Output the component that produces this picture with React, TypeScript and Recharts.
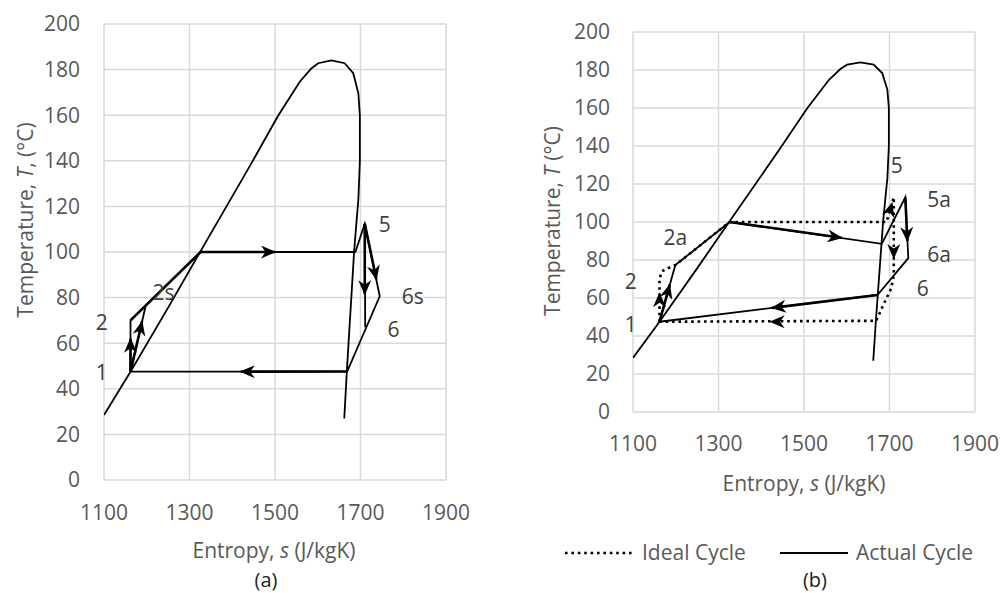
import { LineChart, Line, XAxis, YAxis, CartesianGrid, ReferenceDot } from "recharts";

type Pt = [number, number]; // [entropy s, temperature T]

const sTicks = [1100, 1300, 1500, 1700, 1900];
const tTicks = [0, 20, 40, 60, 80, 100, 120, 140, 160, 180, 200];

// saturation dome (same in both panels)
const dome: Pt[] = [
  [1100, 28.5], [1162, 47.5], [1250, 75.6], [1326, 100.4], [1442, 138],
  [1508, 160], [1558, 174.7], [1585, 180.5], [1601, 182.8], [1632, 184],
  [1663, 182.8], [1683, 178.4], [1695, 169.6], [1698.5, 160], [1698.5, 140],
  [1695, 123], [1691, 114], [1685, 100], [1668, 47.5], [1662, 27],
];

// panel (a)
const cycleA: Pt[] = [
  [1162, 47.5], [1162, 70], [1326, 100], [1688, 100], [1710, 112.4],
  [1745, 80.6], [1669, 47.6], [1162, 47.5],
];
const to2sA: Pt[] = [[1162, 47.5], [1197, 76]];
const to6A: Pt[] = [[1710, 112.4], [1711, 67]];
const liquidA: Pt[] = [[1162, 70], [1326, 100]];
const arrowsA: Pt[][] = [
  [[1162, 47.5], [1162, 62]],
  [[1162, 47.5], [1189, 69.5]],
  [[1326, 100], [1500, 100]],
  [[1669, 47.6], [1420, 47.5]],
  [[1710, 112.4], [1710, 81.5]],
  [[1710, 112.4], [1737, 88]],
];
const labelsA = [
  { text: "5", s: 1757, T: 112 },
  { text: "6s", s: 1822, T: 80.6 },
  { text: "6", s: 1777, T: 66.2 },
  { text: "2s", s: 1239, T: 82 },
  { text: "2", s: 1095, T: 69 },
  { text: "1", s: 1095, T: 47 },
];

// panel (b)
const idealB: Pt[] = [
  [1162, 47.5], [1162, 70], [1167, 74], [1183, 75.8], [1199, 77.3],
  [1326, 100], [1693, 100], [1710, 113], [1710, 72], [1704, 65],
  [1689, 58], [1677, 52], [1669, 48], [1162, 47.5],
];
const actualB: Pt[] = [
  [1162, 47.5], [1199, 77.3], [1326, 100], [1682, 88.5], [1737, 113],
  [1744, 81], [1672, 61.6], [1162, 47.5],
];
const actualArrowsB: Pt[][] = [
  [[1162, 47.5], [1186, 67]],
  [[1326, 100], [1588, 91.7]],
  [[1737, 113], [1741.7, 90]],
  [[1672, 61.6], [1425, 54.8]],
];
const idealArrowsB: Pt[][] = [
  [[1162, 47.5], [1162, 62.5]],
  [[1693, 100], [1706, 110]],
  [[1710, 113], [1710, 81]],
  [[1669, 47.5], [1422, 47.5]],
];
const labelsB = [
  { text: "5", s: 1717, T: 129.5 },
  { text: "5a", s: 1816, T: 111.6 },
  { text: "2a", s: 1199, T: 92 },
  { text: "6a", s: 1816, T: 82.7 },
  { text: "2", s: 1095, T: 68.8 },
  { text: "6", s: 1778, T: 65.1 },
  { text: "1", s: 1095, T: 45.8 },
];

const rows = (pts: Pt[]) => pts.map(([s, T]) => ({ s, T }));

const GREY = "#595959";
const DOTS = "2.6 3.8";
const FS = 21;

function ArrowDef({ id }: { id: string }) {
  return (
    <marker
      id={id}
      viewBox="0 0 15 13"
      refX={14}
      refY={6.5}
      markerWidth={15}
      markerHeight={13}
      markerUnits="userSpaceOnUse"
      orient="auto"
    >
      <path d="M0,0 L15,6.5 L0,13 L4.5,6.5 Z" fill="#000" stroke="none" />
    </marker>
  );
}

function line(key: string, pts: Pt[], opts: { w?: number; dash?: string; arrow?: string; hide?: boolean } = {}) {
  return (
    <Line
      key={key}
      data={rows(pts)}
      dataKey="T"
      type="linear"
      stroke="#000"
      strokeOpacity={opts.hide ? 0 : 1}
      strokeWidth={opts.w ?? 1.8}
      strokeDasharray={opts.dash}
      markerEnd={opts.arrow ? `url(#${opts.arrow})` : undefined}
      dot={false}
      activeDot={false}
      legendType="none"
      isAnimationActive={false}
    />
  );
}

function labelDots(list: { text: string; s: number; T: number }[]) {
  return list.map((l) => (
    <ReferenceDot
      key={l.text}
      x={l.s}
      y={l.T}
      r={0}
      fill="none"
      stroke="none"
      ifOverflow="visible"
      label={{ value: l.text, position: "center", fill: "#404040", fontSize: FS }}
    />
  ));
}

export default function App() {
  const tick = { fill: GREY, fontSize: FS };
  return (
    <div
      style={{
        position: "absolute",
        left: 0,
        top: 0,
        width: 1002,
        height: 593,
        background: "#fff",
        fontFamily: "'Open Sans', sans-serif",
      }}
    >
      {/* (a) */}
      <div style={{ position: "absolute", left: 0, top: 0 }}>
        <LineChart width={500} height={593} margin={{ top: 24, right: 54, bottom: 0, left: 0 }}>
          <defs>
            <ArrowDef id="arrA" />
          </defs>
          <CartesianGrid stroke="#d9d9d9" strokeWidth={1.5} />
          <XAxis
            dataKey="s"
            type="number"
            domain={[1100, 1900]}
            ticks={sTicks}
            allowDataOverflow
            axisLine={false}
            tickLine={false}
            tickSize={0}
            tickMargin={25}
            height={113}
            tick={tick}
          />
          <YAxis
            type="number"
            domain={[0, 200]}
            ticks={tTicks}
            allowDataOverflow
            axisLine={false}
            tickLine={false}
            tickSize={0}
            tickMargin={24}
            width={104}
            tick={tick}
          />
          {line("domeA", dome)}
          {line("cycleA", cycleA)}
          {line("to2sA", to2sA)}
          {line("to6A", to6A)}
          {line("liquidA", liquidA, { w: 2.6 })}
          {arrowsA.map((a, i) => line(`arrA${i}`, a, { w: 2.6, arrow: "arrA" }))}
          {labelDots(labelsA)}
          <text x={25} y={220} fill={GREY} fontSize={FS} textAnchor="middle" dominantBaseline="central" transform="rotate(-90 25 220)">
            Temperature, <tspan fontStyle="italic">T</tspan>, (°C)
          </text>
          <text x={274} y={550} fill={GREY} fontSize={FS} textAnchor="middle" dominantBaseline="central">
            Entropy, <tspan fontStyle="italic">s</tspan> (J/kgK)
          </text>
          <text x={266} y={579} fill="#222" fontSize={20} textAnchor="middle" dominantBaseline="central">
            (a)
          </text>
        </LineChart>
      </div>

      {/* (b) */}
      <div style={{ position: "absolute", left: 500, top: 0 }}>
        <LineChart width={502} height={593} margin={{ top: 32, right: 27, bottom: 0, left: 0 }}>
          <defs>
            <ArrowDef id="arrB" />
          </defs>
          <CartesianGrid stroke="#d9d9d9" strokeWidth={1.5} />
          <XAxis
            dataKey="s"
            type="number"
            domain={[1100, 1900]}
            ticks={sTicks}
            allowDataOverflow
            axisLine={false}
            tickLine={false}
            tickSize={0}
            tickMargin={24}
            height={181}
            tick={tick}
          />
          <YAxis
            type="number"
            domain={[0, 200]}
            ticks={tTicks}
            allowDataOverflow
            axisLine={false}
            tickLine={false}
            tickSize={0}
            tickMargin={23}
            width={133}
            tick={tick}
          />
          {line("domeB", dome)}
          {line("idealB", idealB, { w: 2.6, dash: DOTS })}
          {line("actualB", actualB)}
          {actualArrowsB.map((a, i) => line(`actB${i}`, a, { w: 2.6, arrow: "arrB" }))}
          {idealArrowsB.map((a, i) => line(`idB${i}`, a, { w: 2.6, arrow: "arrB", hide: true }))}
          {labelDots(labelsB)}
          <text x={52} y={221} fill={GREY} fontSize={FS} textAnchor="middle" dominantBaseline="central" transform="rotate(-90 52 221)">
            Temperature, <tspan fontStyle="italic">T</tspan> (°C)
          </text>
          <text x={304} y={483} fill={GREY} fontSize={FS} textAnchor="middle" dominantBaseline="central">
            Entropy, <tspan fontStyle="italic">s</tspan> (J/kgK)
          </text>
          {/* legend */}
          <line x1={65} y1={553} x2={135} y2={553} stroke="#000" strokeWidth={2.6} strokeDasharray={DOTS} />
          <text x={142} y={552} fill={GREY} fontSize={FS} dominantBaseline="central">
            Ideal Cycle
          </text>
          <line x1={280} y1={553} x2={348} y2={553} stroke="#000" strokeWidth={1.8} />
          <text x={356} y={552} fill={GREY} fontSize={FS} dominantBaseline="central">
            Actual Cycle
          </text>
          <text x={315} y={579} fill="#222" fontSize={20} textAnchor="middle" dominantBaseline="central">
            (b)
          </text>
        </LineChart>
      </div>
    </div>
  );
}
